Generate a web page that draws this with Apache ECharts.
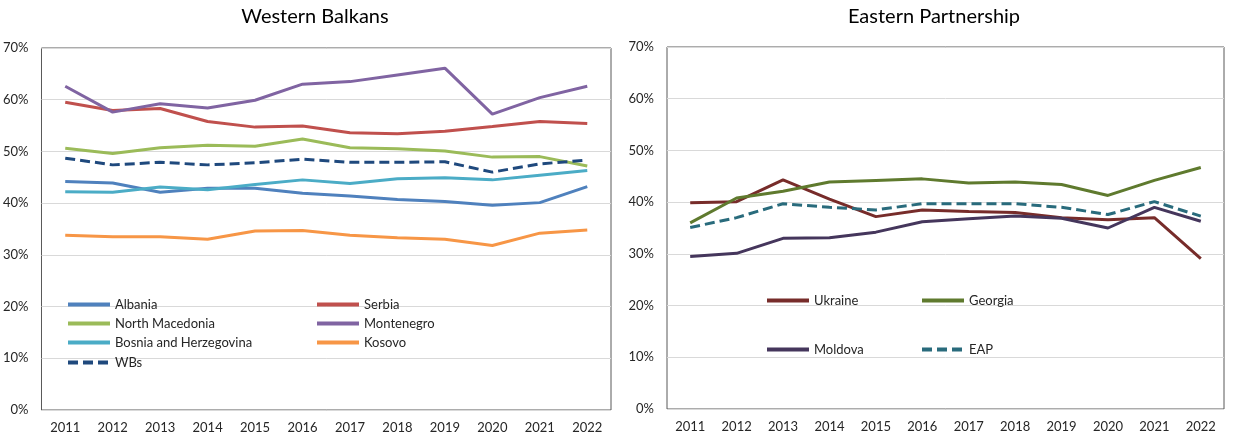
<!DOCTYPE html>
<html>
<head>
<meta charset="utf-8">
<script src="https://cdn.jsdelivr.net/npm/echarts@6/dist/echarts.min.js"></script>
<style>
  html, body { margin: 0; padding: 0; background: #fff; }
  #main { width: 1239px; height: 439px; }
</style>
</head>
<body>
<div id="main"></div>
<script type="text/javascript">
    // data, in percent
    var years = ['2011', '2012', '2013', '2014', '2015', '2016', '2017', '2018', '2019', '2020', '2021', '2022'];
    var yTicks = [0, 10, 20, 30, 40, 50, 60, 70];

    var albania = [44.2, 43.9, 42.1, 42.9, 42.9, 41.9, 41.4, 40.7, 40.3, 39.6, 40.1, 43.2];
    var serbia = [59.5, 57.9, 58.3, 55.8, 54.7, 54.9, 53.6, 53.4, 53.9, 54.8, 55.8, 55.4];
    var northMacedonia = [50.6, 49.6, 50.7, 51.2, 51.0, 52.4, 50.7, 50.5, 50.1, 48.9, 49.0, 47.2];
    var montenegro = [62.6, 57.6, 59.2, 58.4, 59.9, 63.0, 63.5, 64.8, 66.1, 57.2, 60.4, 62.6];
    var bosnia = [42.2, 42.1, 43.1, 42.6, 43.6, 44.5, 43.8, 44.7, 44.9, 44.5, 45.4, 46.3];
    var kosovo = [33.8, 33.5, 33.5, 33.0, 34.6, 34.7, 33.8, 33.3, 33.0, 31.8, 34.2, 34.8];
    var wbs = [48.7, 47.4, 47.9, 47.4, 47.8, 48.5, 47.9, 47.9, 48.0, 46.0, 47.6, 48.3];

    var ukraine = [39.9, 40.1, 44.3, 40.6, 37.2, 38.5, 38.2, 38.0, 37.0, 36.6, 37.0, 29.1];
    var georgia = [36.0, 40.8, 42.1, 43.9, 44.2, 44.5, 43.7, 43.9, 43.4, 41.3, 44.2, 46.7];
    var moldova = [29.5, 30.1, 33.0, 33.1, 34.2, 36.2, 36.8, 37.3, 36.9, 35.0, 39.0, 36.3];
    var eap = [35.1, 37.0, 39.7, 39.0, 38.5, 39.7, 39.7, 39.7, 39.0, 37.6, 40.1, 37.3];

    var FONT = 'Lato, "Open Sans", sans-serif';

    function line(name, data, color, idx, dashed) {
        return {
            name: name,
            type: 'line',
            xAxisIndex: idx,
            yAxisIndex: idx,
            data: data,
            symbol: 'none',
            lineStyle: { color: color, width: 3, type: dashed ? [10, 5] : 'solid' },
            itemStyle: { color: color }
        };
    }

    function legendAt(name, left, top) {
        return {
            data: [name],
            left: left,
            top: top,
            padding: 0,
            itemWidth: 42,
            itemHeight: 14,
            // hide the round marker, keep only the line
            itemStyle: { color: 'transparent', borderWidth: 0 },
            lineStyle: { width: 4 },
            textStyle: { fontFamily: FONT, fontSize: 13, color: '#262626' }
        };
    }

    function xAx(idx) {
        return {
            type: 'category',
            gridIndex: idx,
            data: years,
            axisLine: { show: false },
            axisTick: { show: false },
            axisLabel: { fontFamily: FONT, fontSize: 13, color: '#262626', margin: 11 }
        };
    }

    function yAx(idx) {
        return {
            type: 'value',
            gridIndex: idx,
            min: yTicks[0],
            max: yTicks[yTicks.length - 1],
            interval: 10,
            axisLine: { show: false },
            axisTick: { show: false },
            splitLine: { lineStyle: { color: '#D9D9D9', width: 1 } },
            axisLabel: { fontFamily: FONT, fontSize: 13, color: '#262626', margin: 13, formatter: '{value}%' }
        };
    }

    var myChart = echarts.init(document.getElementById('main'));
    myChart.setOption({
        animation: false,
        title: [{
            text: 'Western Balkans',
            left: 310, top: 2, textAlign: 'center',
            textStyle: { fontFamily: FONT, fontSize: 20, fontWeight: 'normal', color: '#000' }
        }, {
            text: 'Eastern Partnership',
            left: 929, top: 2, textAlign: 'center',
            textStyle: { fontFamily: FONT, fontSize: 20, fontWeight: 'normal', color: '#000' }
        }],
        grid: [
            { left: 41, top: 48, width: 570, height: 362, show: true, borderColor: '#595959', borderWidth: 1 },
            { left: 667, top: 47, width: 557, height: 362, show: true, borderColor: '#595959', borderWidth: 1 }
        ],
        xAxis: [xAx(0), xAx(1)],
        yAxis: [yAx(0), yAx(1)],
        legend: [
            legendAt('Albania', 66, 298),
            legendAt('Serbia', 315, 298),
            legendAt('North Macedonia', 66, 317),
            legendAt('Montenegro', 315, 317),
            legendAt('Bosnia and Herzegovina', 66, 336),
            legendAt('Kosovo', 315, 336),
            legendAt('WBs', 66, 356),
            legendAt('Ukraine', 765, 294),
            legendAt('Georgia', 920, 294),
            legendAt('Moldova', 765, 343),
            legendAt('EAP', 920, 343)
        ],
        series: [
            line('Albania', albania, '#4F81BD', 0),
            line('Serbia', serbia, '#C0504D', 0),
            line('North Macedonia', northMacedonia, '#9BBB59', 0),
            line('Montenegro', montenegro, '#8064A2', 0),
            line('Bosnia and Herzegovina', bosnia, '#4BACC6', 0),
            line('Kosovo', kosovo, '#F79646', 0),
            line('WBs', wbs, '#1F497D', 0, true),
            line('Ukraine', ukraine, '#772C2A', 1),
            line('Georgia', georgia, '#5F7A2E', 1),
            line('Moldova', moldova, '#45365C', 1),
            line('EAP', eap, '#296B7C', 1, true)
        ]
    });
</script>
</body>
</html>
